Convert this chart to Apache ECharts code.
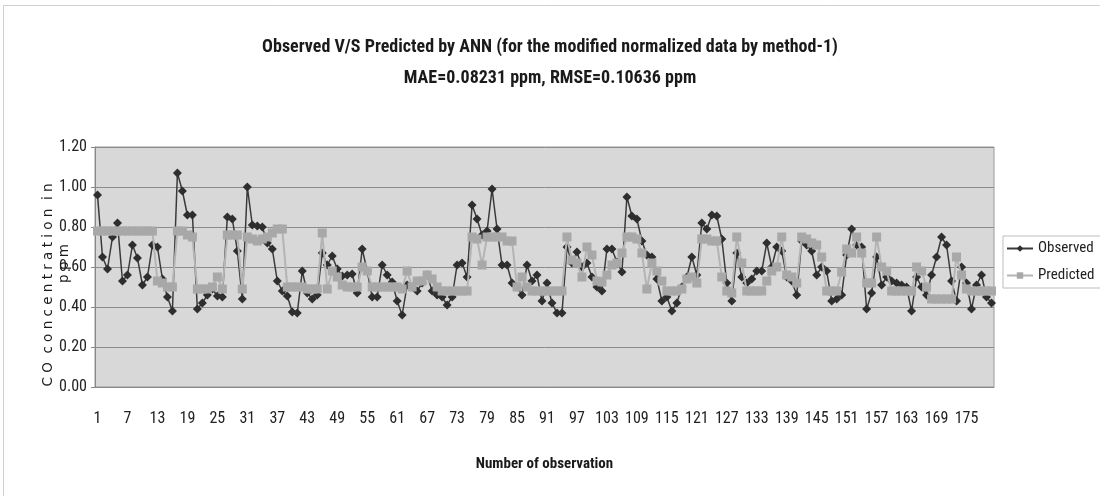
<!DOCTYPE html>
<html>
<head>
<meta charset="utf-8">
<script src="https://cdn.jsdelivr.net/npm/echarts@6/dist/echarts.min.js"></script>
<style>
  html, body { margin: 0; padding: 0; background: #ffffff; }
  #chart { width: 1100px; height: 496px; }
</style>
</head>
<body>
<div id="chart"></div>
<script>
// Observation numbers 1..180 (category axis)
const observationCount = 180;
const observationNumbers = Array.from({ length: observationCount }, (_, k) => String(k + 1));

// Measured CO concentration (ppm)
const observed = [
  0.96, 0.65, 0.59, 0.75, 0.82, 0.53, 0.56, 0.71, 0.645, 0.51,
  0.55, 0.71, 0.70, 0.54, 0.45, 0.38, 1.07, 0.98, 0.86, 0.86,
  0.39, 0.42, 0.46, 0.49, 0.455, 0.45, 0.85, 0.84, 0.68, 0.44,
  1.00, 0.81, 0.805, 0.80, 0.72, 0.69, 0.53, 0.48, 0.455, 0.375,
  0.37, 0.58, 0.47, 0.44, 0.46, 0.67, 0.61, 0.655, 0.59, 0.555,
  0.56, 0.565, 0.47, 0.69, 0.58, 0.45, 0.45, 0.61, 0.56, 0.525,
  0.43, 0.36, 0.51, 0.50, 0.48, 0.52, 0.56, 0.48, 0.46, 0.45,
  0.41, 0.45, 0.61, 0.62, 0.55, 0.91, 0.84, 0.76, 0.78, 0.99,
  0.79, 0.61, 0.61, 0.52, 0.50, 0.46, 0.61, 0.53, 0.56, 0.43,
  0.52, 0.42, 0.37, 0.37, 0.70, 0.62, 0.675, 0.60, 0.62, 0.55,
  0.50, 0.48, 0.69, 0.69, 0.625, 0.575, 0.95, 0.855, 0.84, 0.73,
  0.66, 0.65, 0.54, 0.43, 0.45, 0.38, 0.42, 0.50, 0.55, 0.65,
  0.56, 0.82, 0.79, 0.86, 0.855, 0.74, 0.52, 0.43, 0.67, 0.55,
  0.52, 0.54, 0.58, 0.58, 0.72, 0.60, 0.70, 0.68, 0.55, 0.53,
  0.46, 0.73, 0.71, 0.68, 0.56, 0.60, 0.58, 0.43, 0.44, 0.46,
  0.66, 0.79, 0.71, 0.70, 0.39, 0.47, 0.65, 0.51, 0.55, 0.53,
  0.52, 0.51, 0.50, 0.38, 0.55, 0.50, 0.46, 0.56, 0.65, 0.75,
  0.71, 0.53, 0.43, 0.60, 0.52, 0.39, 0.51, 0.56, 0.45, 0.42
];

// ANN prediction (ppm)
const predicted = [
  0.78, 0.78, 0.78, 0.78, 0.78, 0.78, 0.78, 0.78, 0.78, 0.78,
  0.78, 0.78, 0.53, 0.52, 0.50, 0.50, 0.78, 0.78, 0.76, 0.75,
  0.49, 0.49, 0.49, 0.50, 0.55, 0.49, 0.76, 0.76, 0.76, 0.49,
  0.75, 0.74, 0.73, 0.74, 0.75, 0.77, 0.79, 0.79, 0.50, 0.50,
  0.50, 0.50, 0.49, 0.49, 0.49, 0.77, 0.49, 0.58, 0.55, 0.51,
  0.50, 0.50, 0.50, 0.60, 0.58, 0.50, 0.50, 0.50, 0.50, 0.50,
  0.50, 0.49, 0.58, 0.50, 0.53, 0.53, 0.56, 0.54, 0.50, 0.48,
  0.48, 0.48, 0.48, 0.48, 0.48, 0.75, 0.74, 0.61, 0.75, 0.75,
  0.75, 0.75, 0.73, 0.73, 0.50, 0.55, 0.50, 0.48, 0.48, 0.48,
  0.48, 0.48, 0.48, 0.48, 0.75, 0.635, 0.62, 0.55, 0.70, 0.66,
  0.53, 0.525, 0.56, 0.61, 0.62, 0.67, 0.75, 0.75, 0.74, 0.67,
  0.49, 0.62, 0.58, 0.53, 0.48, 0.48, 0.48, 0.49, 0.54, 0.55,
  0.52, 0.74, 0.74, 0.73, 0.73, 0.55, 0.48, 0.47, 0.75, 0.62,
  0.48, 0.48, 0.48, 0.48, 0.53, 0.58, 0.60, 0.75, 0.56, 0.55,
  0.52, 0.75, 0.74, 0.72, 0.71, 0.65, 0.48, 0.48, 0.48, 0.575,
  0.69, 0.67, 0.75, 0.67, 0.52, 0.52, 0.75, 0.60, 0.58, 0.48,
  0.48, 0.48, 0.48, 0.48, 0.60, 0.58, 0.50, 0.44, 0.44, 0.44,
  0.44, 0.44, 0.65, 0.56, 0.49, 0.48, 0.48, 0.48, 0.48, 0.48
];

// Value axis ticks
const yTicks = [0.0, 0.2, 0.4, 0.6, 0.8, 1.0, 1.2];

const titleText = 'Observed V/S Predicted by ANN (for the modified normalized data by method-1)';
const subtitleText = 'MAE=0.08231 ppm, RMSE=0.10636 ppm';
// second line is indented so it sits a little higher than the first once rotated
const yAxisTitle = 'C O  c o n c e n t r a t i o n  i n\n          p p m';
const xAxisTitle = 'Number of observation';

const narrow = "'Liberation Sans Narrow', 'Arial Narrow', 'Roboto Condensed', 'Liberation Sans', sans-serif";

const chart = echarts.init(document.getElementById('chart'), null, { renderer: 'canvas' });

chart.setOption({
  backgroundColor: '#ffffff',
  animation: false,
  title: {
    text: titleText,
    subtext: subtitleText,
    left: 'center',
    top: 33,
    itemGap: 13,
    textStyle: { fontFamily: narrow, fontSize: 18, fontWeight: 'bold', color: '#1a1a1a' },
    subtextStyle: { fontFamily: narrow, fontSize: 18, fontWeight: 'bold', color: '#1a1a1a' }
  },
  legend: {
    orient: 'vertical',
    left: 1003,
    top: 236,
    itemWidth: 26,
    itemHeight: 8,
    itemGap: 12,
    padding: [5, 6, 5, 3],
    borderColor: '#bdbdbd',
    borderWidth: 1,
    textStyle: { fontFamily: narrow, fontSize: 15, color: '#222' },
    data: ['Observed', 'Predicted']
  },
  graphic: [
    { type: 'line', shape: { x1: 3.5, y1: 5, x2: 3.5, y2: 496 }, style: { stroke: '#d0d0d0', lineWidth: 1 } },
    { type: 'line', shape: { x1: 3, y1: 5.5, x2: 1100, y2: 5.5 }, style: { stroke: '#d0d0d0', lineWidth: 1 } }
  ],
  grid: {
    left: 95,
    right: 106,
    top: 147,
    bottom: 109,
    show: true,
    backgroundColor: '#d8d8d8',
    borderColor: '#9a9a9a',
    borderWidth: 1
  },
  xAxis: {
    type: 'category',
    data: observationNumbers,
    boundaryGap: true,
    name: xAxisTitle,
    nameLocation: 'middle',
    nameGap: 70,
    nameTextStyle: { fontFamily: narrow, fontSize: 15, fontWeight: 'bold', color: '#1a1a1a' },
    axisLine: { lineStyle: { color: '#888', width: 1 } },
    axisTick: { interval: 0, length: 4, lineStyle: { color: '#888' } },
    axisLabel: { interval: 5, margin: 24, fontFamily: narrow, fontSize: 16, color: '#222' },
    splitLine: { show: false }
  },
  yAxis: {
    type: 'value',
    min: yTicks[0],
    max: yTicks[yTicks.length - 1],
    interval: 0.2,
    name: yAxisTitle,
    nameLocation: 'middle',
    nameRotate: 90,
    nameGap: 23,
    nameMoveOverlap: false,
    nameTextStyle: {
      fontFamily: "'DejaVu Sans', sans-serif",
      fontSize: 13.5,
      color: '#1a1a1a',
      lineHeight: 16,
      padding: [0, 36, 0, 0]
    },
    axisLine: { show: true, lineStyle: { color: '#888', width: 1 } },
    axisTick: { show: true, length: 4, lineStyle: { color: '#888' } },
    axisLabel: {
      margin: 8,
      fontFamily: narrow,
      fontSize: 16,
      color: '#222',
      formatter: v => v.toFixed(2)
    },
    splitLine: { lineStyle: { color: '#8c8c8c', width: 1 } }
  },
  series: [
    {
      name: 'Observed',
      type: 'line',
      data: observed,
      symbol: 'diamond',
      symbolSize: 9,
      showAllSymbol: true,
      lineStyle: { color: '#3a3a3a', width: 1.5 },
      itemStyle: { color: '#2e2e2e' },
      z: 2
    },
    {
      name: 'Predicted',
      type: 'line',
      data: predicted,
      symbol: 'rect',
      symbolSize: 9,
      showAllSymbol: true,
      lineStyle: { color: '#b4b4b4', width: 2 },
      itemStyle: { color: '#a8a8a8' },
      z: 3
    }
  ]
});
</script>
</body>
</html>
